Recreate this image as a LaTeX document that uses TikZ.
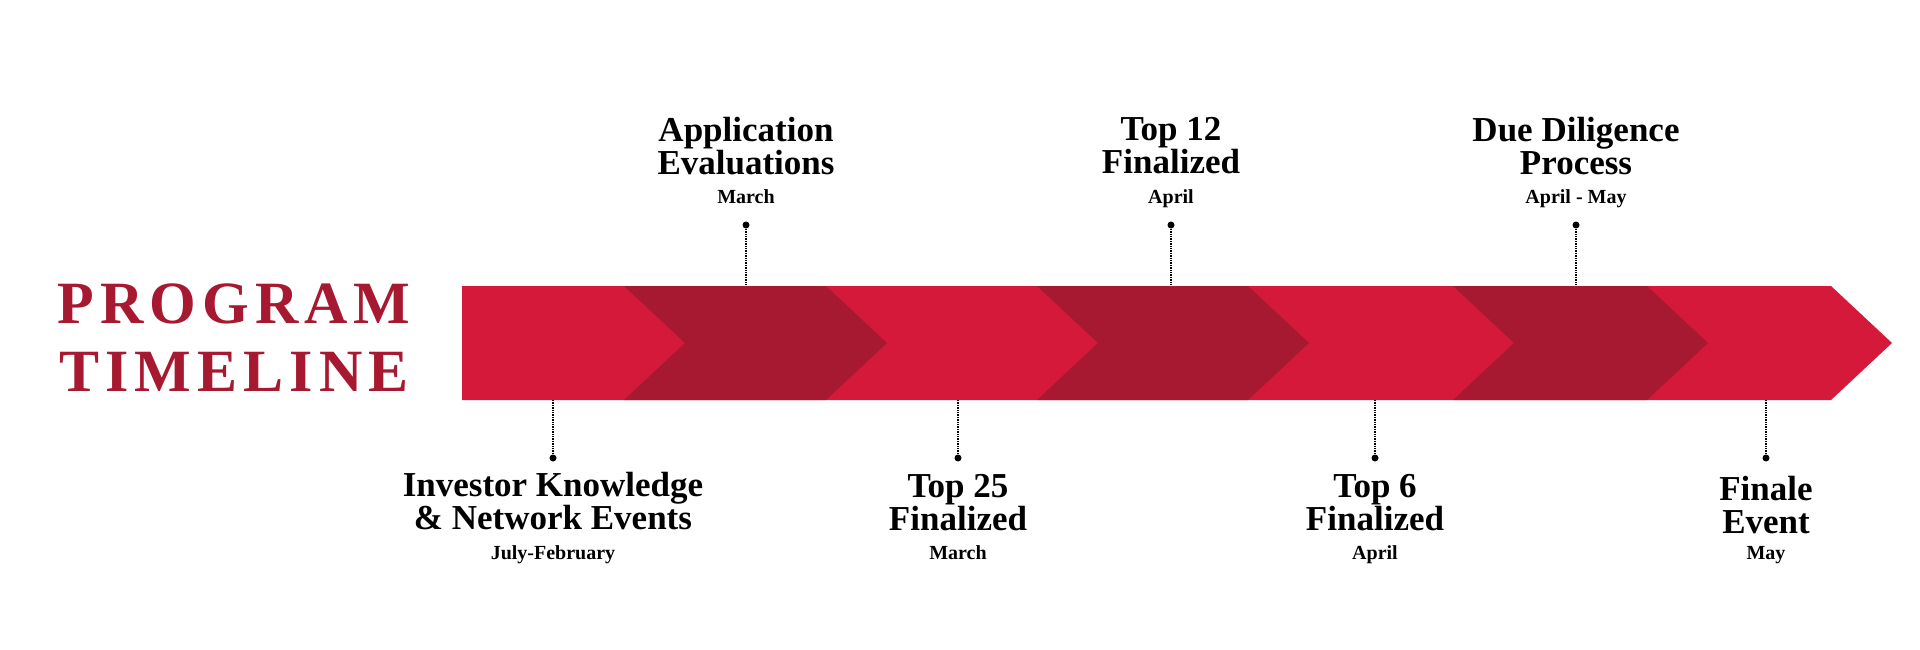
\documentclass[tikz,border=0pt]{standalone}
\usepackage{fontspec}
\setmainfont{Liberation Serif}
\definecolor{lightred}{HTML}{D4193A}
\definecolor{darkred}{HTML}{A71930}
\begin{document}
\begin{tikzpicture}[x=1pt,y=-1pt,
  big/.style={font=\bfseries\fontsize{35}{33}\selectfont,align=center,inner sep=0},
  small/.style={font=\bfseries\fontsize{20}{21}\selectfont,inner sep=0},
  lead/.style={densely dotted,line width=1.4pt},
  pin/.style={circle,fill=black,inner sep=0,minimum size=7pt},
  ttl/.style={text=darkred,font=\bfseries\fontsize{60}{60}\selectfont\addfontfeatures{LetterSpace=10}}]
\useasboundingbox (0,0) rectangle (1920,650);
% base arrow
\fill[lightred] (462,286) -- (1831,286) -- (1892,343) -- (1831,400) -- (462,400) -- cycle;
% dark chevrons
\foreach \a/\b in {624/826,1037/1248,1453/1647}{
  \fill[darkred] (\a,286) -- (\b,286) -- (\b+61,343) -- (\b,400) -- (\a,400) -- (\a+61,343) -- cycle;}
% title
\node[ttl] (t1) at (234,304) {PROGRAM};
\node[ttl] (t2) at (234,372) {TIMELINE};
% top labels
\foreach \n/\x/\l/\m in {ae/746/{Application\\Evaluations}/March, tt/1171/{Top 12\\Finalized}/April, dd/1576/{Due Diligence\\Process}/April - May}{
  \node[big] (\n) at (\x,146) {\l};
  \node[small,anchor=base] (\n m) at (\x,204) {\m};
  \node[pin] (\n p) at (\x,225) {};
  \coordinate (\n b) at (\x,286);
  \draw[lead] (\n p) -- (\n b);}
% bottom labels
\foreach \n/\x/\l/\m/\y in {ik/553/{Investor Knowledge\\\& Network Events}/July-February/501, tf/958/{Top 25\\Finalized}/March/503, ts/1375/{Top 6\\Finalized}/April/503, fe/1766/{Finale\\Event}/May/505}{
  \node[big] (\n) at (\x,\y) {\l};
  \node[small,anchor=base] (\n m) at (\x,559) {\m};
  \node[pin] (\n p) at (\x,458) {};
  \coordinate (\n b) at (\x,400);
  \draw[lead] (\n b) -- (\n p);}
\end{tikzpicture}
\end{document}
